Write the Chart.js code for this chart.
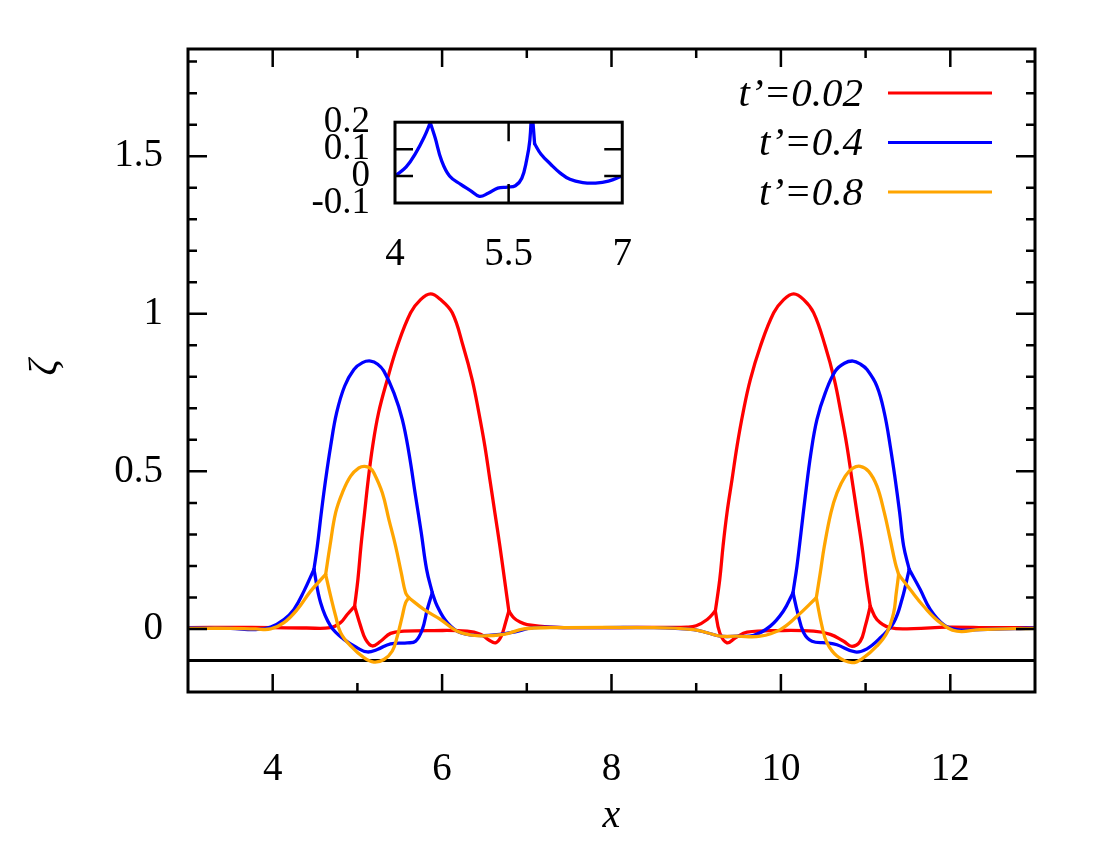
<!DOCTYPE html>
<html>
<head>
<meta charset="utf-8">
<script src="https://cdn.jsdelivr.net/npm/chart.js@4.4.1/dist/chart.umd.min.js"></script>
<style>
  body { margin: 0; background: #fff; }
  #wrap { position: relative; width: 1100px; height: 850px; }
  #main { position: absolute; left: 0; top: 0; }
  #inset { position: absolute; left: 300px; top: 75px; }
</style>
</head>
<body>
<div id="wrap">
  <canvas id="main" width="1100" height="850"></canvas>
  <canvas id="inset" width="360" height="200"></canvas>
</div>
<script>
// Free surface ζ(x) at three times, with a zoomed inset of t'=0.4

const FONT = "'Liberation Serif', 'Times New Roman', serif";

const seriesLabels = ['t’=0.02', 't’=0.4', 't’=0.8'];
const seriesColors = ['#ff0000', '#0000ff', '#ffa500'];

// [x, ζ]; base curves run the whole x range,
// humps join them at the kinks
const redBase = [
    [3, 0.004], [3.5, 0.005], [4.0, 0.004], [4.4, 0.003], [4.68, 0.004], [4.8, 0.02], [4.88, 0.046],
    [4.967, 0.072], [5.038, 0.009], [5.097, -0.033], [5.176, -0.054], [5.274, -0.039], [5.392, -0.014],
    [5.549, -0.007], [5.903, -0.005], [6.297, -0.007], [6.454, -0.017], [6.552, -0.035], [6.631, -0.044],
    [6.698, -0.023], [6.749, 0.02], [6.788, 0.057], [6.847, 0.035], [6.92, 0.022], [7.004, 0.014],
    [7.28, 0.006], [7.75, 0.004], [8.3, 0.005], [8.89, 0.006], [9.0, 0.01], [9.13, 0.03],
    [9.226, 0.057], [9.278, -0.012], [9.364, -0.044], [9.463, -0.028], [9.6, -0.01], [9.993, -0.005],
    [10.387, -0.007], [10.583, -0.017], [10.741, -0.039], [10.839, -0.055], [10.937, -0.039],
    [10.996, 0.009], [11.055, 0.072], [11.134, 0.03], [11.291, 0.004], [11.567, 0.001], [11.96, 0.006],
    [12.5, 0.004], [13, 0.004]
];
const redHumpL = [
    [4.967, 0.072], [5.006, 0.157], [5.042, 0.263], [5.085, 0.369], [5.128, 0.474], [5.18, 0.58],
    [5.25, 0.686], [5.353, 0.791], [5.471, 0.897], [5.628, 1.003], [5.746, 1.045], [5.864, 1.063],
    [5.982, 1.045], [6.12, 1.003], [6.249, 0.897], [6.355, 0.791], [6.434, 0.686], [6.505, 0.58],
    [6.564, 0.474], [6.623, 0.369], [6.682, 0.263], [6.737, 0.157], [6.788, 0.057]
];
const redHumpR = [
    [9.226, 0.057], [9.278, 0.157], [9.317, 0.263], [9.364, 0.369], [9.423, 0.474], [9.482, 0.58],
    [9.553, 0.686], [9.639, 0.791], [9.758, 0.897], [9.915, 1.003], [10.033, 1.045], [10.151, 1.063],
    [10.269, 1.045], [10.387, 1.003], [10.524, 0.897], [10.631, 0.791], [10.709, 0.686], [10.78, 0.58],
    [10.839, 0.474], [10.898, 0.369], [10.957, 0.263], [11.008, 0.157], [11.055, 0.072]
];

const blueBase = [
    [3, 0.003], [3.5, 0.002], [3.8, -0.002], [3.976, 0.006], [4.133, 0.03], [4.251, 0.062], [4.369, 0.12],
    [4.487, 0.189], [4.566, 0.083], [4.684, 0.009], [4.841, -0.033], [4.999, -0.06], [5.117, -0.073],
    [5.235, -0.065], [5.392, -0.047], [5.589, -0.044], [5.687, -0.039], [5.766, -0.002], [5.825, 0.062],
    [5.884, 0.115], [5.943, 0.072], [6.061, 0.02], [6.218, -0.012], [6.493, -0.021], [6.808, -0.012],
    [7.083, 0.004], [7.5, 0.004], [8.5, 0.004], [8.97, -0.002], [9.13, -0.012], [9.286, -0.023],
    [9.48, -0.023], [9.68, -0.02], [9.875, 0.009], [10.03, 0.057],
    [10.143, 0.115], [10.198, 0.051], [10.269, -0.012], [10.367, -0.039], [10.544, -0.044],
    [10.662, -0.05], [10.878, -0.073], [11.016, -0.063], [11.174, -0.028], [11.331, 0.02], [11.43, 0.094],
    [11.515, 0.189], [11.645, 0.125], [11.763, 0.062], [11.92, 0.014], [12.078, -0.002], [12.35, -0.002],
    [13, 0.003]
];
const blueHumpL = [
    [4.487, 0.189], [4.527, 0.263], [4.574, 0.369], [4.625, 0.474], [4.684, 0.58], [4.755, 0.686],
    [4.849, 0.77], [4.959, 0.823], [5.06, 0.845], [5.156, 0.85], [5.24, 0.84], [5.313, 0.818],
    [5.431, 0.749], [5.53, 0.665], [5.608, 0.559], [5.687, 0.421], [5.754, 0.305], [5.817, 0.189],
    [5.884, 0.115]
];
const blueHumpR = [
    [10.143, 0.115], [10.19, 0.2], [10.237, 0.305], [10.288, 0.421], [10.355, 0.559], [10.426, 0.665],
    [10.524, 0.749], [10.642, 0.818], [10.75, 0.843], [10.851, 0.85], [10.94, 0.84], [11.016, 0.823],
    [11.134, 0.77], [11.221, 0.686], [11.291, 0.58], [11.35, 0.474], [11.402, 0.369], [11.449, 0.263],
    [11.515, 0.189]
];

const orangeBase = [
    [3, 0.002], [3.5, 0.002], [3.8, 0.0], [3.976, 0.0], [4.133, 0.02], [4.291, 0.062], [4.448, 0.12],
    [4.625, 0.173], [4.684, 0.104], [4.743, 0.041], [4.802, -0.012], [4.92, -0.054], [5.077, -0.091],
    [5.195, -0.105], [5.313, -0.097], [5.412, -0.07], [5.471, -0.023], [5.53, 0.041], [5.569, 0.083],
    [5.608, 0.099], [5.785, 0.062], [5.982, 0.03], [6.179, -0.007], [6.414, -0.021], [6.729, -0.017],
    [6.965, 0.0], [7.28, 0.004], [8.5, 0.004], [8.97, -0.002], [9.13, -0.012], [9.286, -0.023],
    [9.48, -0.023], [9.757, -0.023], [9.993, -0.002], [10.19, 0.04],
    [10.418, 0.099], [10.485, 0.009], [10.544, -0.044], [10.662, -0.086], [10.839, -0.107],
    [10.977, -0.091], [11.134, -0.054], [11.252, -0.012], [11.331, 0.051], [11.36, 0.11],
    [11.39, 0.173], [11.527, 0.125], [11.685, 0.072], [11.881, 0.02], [12.078, -0.007], [12.35, -0.002],
    [13, 0.002]
];
const orangeHumpL = [
    [4.625, 0.173], [4.676, 0.263], [4.743, 0.369], [4.822, 0.432], [4.92, 0.485], [5.018, 0.511],
    [5.085, 0.516], [5.15, 0.51], [5.195, 0.495], [5.294, 0.432], [5.372, 0.347], [5.451, 0.263],
    [5.518, 0.178], [5.569, 0.115], [5.608, 0.099]
];
const orangeHumpR = [
    [10.418, 0.099], [10.465, 0.178], [10.513, 0.263], [10.591, 0.369], [10.662, 0.432], [10.76, 0.485],
    [10.85, 0.51], [10.937, 0.516], [11.036, 0.5], [11.134, 0.453], [11.221, 0.369], [11.291, 0.284],
    [11.35, 0.21], [11.39, 0.173]
];

const refLineY = -0.1;

const xMajor = [4, 6, 8, 10, 12];
const xMinor = [5, 7, 9, 11];
const yMajor = [0, 0.5, 1, 1.5];
const yMinor = [-0.1, 0.1, 0.2, 0.3, 0.4, 0.6, 0.7, 0.8, 0.9, 1.1, 1.2, 1.3, 1.4, 1.6, 1.7, 1.8];

// inset: t'=0.4 between x=4 and x=7
const insetCurve = [
    [4.0, 0.0], [4.148, 0.034], [4.275, 0.086], [4.381, 0.142], [4.466, 0.198], [4.53, 0.142],
    [4.614, 0.058], [4.72, 0.0], [4.868, -0.031], [4.996, -0.054], [5.114, -0.075], [5.229, -0.064],
    [5.356, -0.045], [5.483, -0.041], [5.589, -0.036], [5.674, -0.008], [5.737, 0.058], [5.78, 0.133],
    [5.805, 0.26], [5.843, 0.12], [5.928, 0.081], [6.055, 0.044], [6.182, 0.011], [6.309, -0.012],
    [6.479, -0.024], [6.648, -0.026], [6.818, -0.019], [7.0, 0.0]
];
const insetKinks = [4.466, 5.805, 5.843];
const insetXTicks = [4, 5.5, 7];
const insetYTicks = [-0.1, 0, 0.1, 0.2];

function toPts(arr) {
    return arr.map(p => ({ x: p[0], y: p[1] }));
}

// cut a curve at the kink points so each piece can be smoothed on its own
function splitAt(base, cuts) {
    const out = [];
    let cur = [];
    base.forEach(p => {
        cur.push(p);
        if (cuts.includes(p[0]) && cur.length > 1) {
            out.push(cur);
            cur = [p];
        }
    });
    if (cur.length > 1) out.push(cur);
    return out;
}

const curves = [
    { base: redBase, humps: [redHumpL, redHumpR] },
    { base: blueBase, humps: [blueHumpL, blueHumpR] },
    { base: orangeBase, humps: [orangeHumpL, orangeHumpR] }
];

const datasets = [{
    data: [{ x: 3, y: refLineY }, { x: 13, y: refLineY }],
    borderColor: '#000',
    borderWidth: 3,
    pointRadius: 0,
    order: 10
}];
curves.forEach((c, i) => {
    const cuts = [];
    c.humps.forEach(h => { cuts.push(h[0][0], h[h.length - 1][0]); });
    splitAt(c.base, cuts).concat(c.humps).forEach(seg => {
        datasets.push({
            data: toPts(seg),
            borderColor: seriesColors[i],
            borderWidth: 3.3,
            pointRadius: 0,
            tension: 0.4,
            borderCapStyle: 'round',
            borderJoinStyle: 'round',
            order: 3 - i
        });
    });
});

// border box plus inward ticks on all four sides
const framePlugin = {
    id: 'frame',
    afterDraw(chart, args, opts) {
        const { ctx, chartArea: a, scales: { x, y } } = chart;
        ctx.save();
        ctx.strokeStyle = '#000';
        ctx.lineWidth = 2.5;
        ctx.beginPath();
        opts.xTicks.forEach(([v, len]) => {
            const px = x.getPixelForValue(v);
            ctx.moveTo(px, a.bottom); ctx.lineTo(px, a.bottom - len);
            ctx.moveTo(px, a.top); ctx.lineTo(px, a.top + len);
        });
        opts.yTicks.forEach(([v, len]) => {
            const py = y.getPixelForValue(v);
            ctx.moveTo(a.left, py); ctx.lineTo(a.left + len, py);
            ctx.moveTo(a.right, py); ctx.lineTo(a.right - len, py);
        });
        ctx.stroke();
        ctx.lineWidth = 3;
        ctx.strokeRect(a.left, a.top, a.right - a.left, a.bottom - a.top);
        ctx.restore();
    }
};

const labelsPlugin = {
    id: 'labels',
    afterDraw(chart) {
        const { ctx, chartArea: a } = chart;
        ctx.save();
        ctx.fillStyle = '#000';
        ctx.font = 'italic 40px ' + FONT;
        ctx.textAlign = 'center';
        ctx.textBaseline = 'middle';
        ctx.fillText('x', (a.left + a.right) / 2, 816);
        ctx.translate(45, (a.top + a.bottom) / 2 - 3);
        ctx.rotate(-Math.PI / 2);
        ctx.fillText('ζ', 0, 0);
        ctx.restore();

        // legend: text right-aligned, sample line to its right
        ctx.save();
        ctx.font = 'italic 41px ' + FONT;
        ctx.textAlign = 'right';
        ctx.textBaseline = 'middle';
        ctx.lineWidth = 3;
        seriesLabels.forEach((lab, i) => {
            const yy = 93 + i * 49.5;
            ctx.fillStyle = '#000';
            ctx.fillText(lab, 863, yy + 2);
            ctx.strokeStyle = seriesColors[i];
            ctx.beginPath();
            ctx.moveTo(888, yy);
            ctx.lineTo(992, yy);
            ctx.stroke();
        });
        ctx.restore();
    }
};

function fmt(v) {
    return String(Math.round(v * 10) / 10);
}

const tickFont = { family: FONT, size: 39 };
const insetFont = { family: FONT, size: 37 };

new Chart(document.getElementById('main'), {
    type: 'line',
    data: { datasets: datasets },
    options: {
        responsive: false,
        animation: false,
        layout: { padding: { top: 49, right: 65, left: 0, bottom: 0 } },
        plugins: {
            legend: { display: false },
            tooltip: { enabled: false },
            frame: {
                xTicks: xMajor.map(v => [v, 18]).concat(xMinor.map(v => [v, 9])),
                yTicks: yMajor.map(v => [v, 19]).concat(yMinor.map(v => [v, 9]))
            }
        },
        scales: {
            x: {
                type: 'linear',
                min: 3,
                max: 13,
                afterBuildTicks: s => { s.ticks = xMajor.map(v => ({ value: v })); },
                afterFit: s => { s.height = 158; },
                grid: { display: false, drawTicks: false },
                border: { display: false },
                ticks: {
                    padding: 54,
                    autoSkip: false,
                    maxRotation: 0,
                    color: '#000',
                    font: tickFont,
                    callback: v => fmt(v)
                }
            },
            y: {
                min: -0.2,
                max: 1.84,
                afterBuildTicks: s => { s.ticks = yMajor.map(v => ({ value: v })); },
                afterFit: s => { s.width = 188; },
                grid: { display: false, drawTicks: false },
                border: { display: false },
                ticks: {
                    padding: 25,
                    autoSkip: false,
                    color: '#000',
                    font: tickFont,
                    callback: v => fmt(v)
                }
            }
        }
    },
    plugins: [framePlugin, labelsPlugin]
});

new Chart(document.getElementById('inset'), {
    type: 'line',
    data: {
        datasets: splitAt(insetCurve, insetKinks).map(seg => ({
            data: toPts(seg),
            borderColor: seriesColors[1],
            borderWidth: 3.3,
            pointRadius: 0,
            tension: 0.4,
            borderCapStyle: 'round',
            borderJoinStyle: 'round'
        }))
    },
    options: {
        responsive: false,
        animation: false,
        layout: { padding: { top: 20, right: 29, left: 0, bottom: 0 } },
        plugins: {
            legend: { display: false },
            tooltip: { enabled: false },
            frame: {
                xTicks: [[5.5, 19]],
                yTicks: [[0, 18], [0.1, 18]]
            }
        },
        scales: {
            x: {
                type: 'linear',
                min: 4,
                max: 7,
                afterBuildTicks: s => { s.ticks = insetXTicks.map(v => ({ value: v })); },
                afterFit: s => { s.height = 72; },
                grid: { display: false, drawTicks: false },
                border: { display: false },
                ticks: {
                    padding: 28,
                    autoSkip: false,
                    maxRotation: 0,
                    color: '#000',
                    font: tickFont,
                    callback: v => fmt(v)
                }
            },
            y: {
                min: -0.1,
                max: 0.2,
                afterBuildTicks: s => { s.ticks = insetYTicks.map(v => ({ value: v })); },
                afterFit: s => { s.width = 95; },
                grid: { display: false, drawTicks: false },
                border: { display: false },
                ticks: {
                    padding: 25,
                    autoSkip: false,
                    color: '#000',
                    font: insetFont,
                    callback: v => fmt(v)
                }
            }
        }
    },
    plugins: [framePlugin]
});
</script>
</body>
</html>
